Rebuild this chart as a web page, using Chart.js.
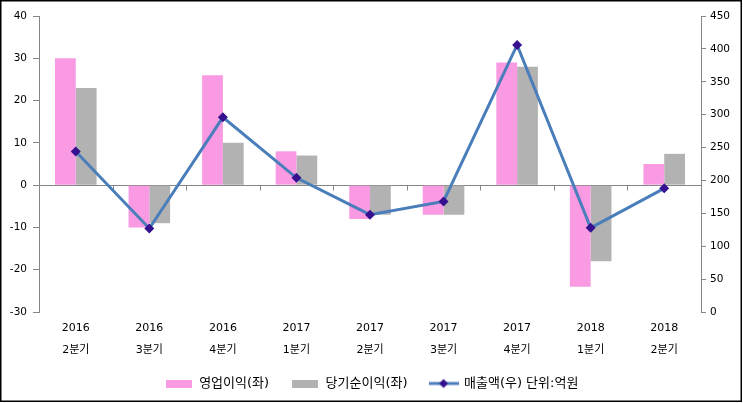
<!DOCTYPE html>
<html><head><meta charset="utf-8">
<script src="https://cdn.jsdelivr.net/npm/chart.js@4.4.1/dist/chart.umd.min.js"></script>
<style>html,body{margin:0;padding:0;background:#fff}#wrap{width:743px;height:403px}</style>
</head><body><div id="wrap"><canvas id="c" width="743" height="403"></canvas></div>
<script>
const years = ['2016','2016','2016','2017','2017','2017','2017','2018','2018'];
const quarters = ['2분기','3분기','4분기','1분기','2분기','3분기','4분기','1분기','2분기'];
const operatingProfit = [30, -10, 26, 8, -8, -7, 29, -24, 5];
const netProfit = [23, -9, 10, 7, -7, -7, 28, -18, 7.4];
const sales = [244, 127, 296, 204, 148, 168, 406, 128, 188];
const leftTicks = {min: -30, max: 40, step: 10};
const rightTicks = {min: 0, max: 450, step: 50};
const seriesNames = ['영업이익(좌)', '당기순이익(좌)', '매출액(우) 단위:억원'];

const PINK = '#f99ae3', GRAY = '#b2b2b2', BLUE = '#4a7ebb', MARK = '#35108f', AXIS = '#868686';
const FONT = '"DejaVu Sans", "Noto Sans CJK KR", sans-serif';

function boxCanvas(w, h, color) {
  const c = document.createElement('canvas'); c.width = w; c.height = h;
  const g = c.getContext('2d'); g.fillStyle = color; g.fillRect(0, 0, w, h); return c;
}
function lineCanvas() {
  const c = document.createElement('canvas'); c.width = 30; c.height = 12;
  const g = c.getContext('2d');
  g.strokeStyle = BLUE; g.lineWidth = 3; g.beginPath(); g.moveTo(0, 6); g.lineTo(30, 6); g.stroke();
  g.fillStyle = MARK; g.beginPath(); g.moveTo(15, 1.5); g.lineTo(19.5, 6); g.lineTo(15, 10.5); g.lineTo(10.5, 6); g.closePath(); g.fill();
  return c;
}
const legendImgs = [boxCanvas(26, 8, PINK), boxCanvas(26, 8, GRAY), lineCanvas()];

const decor = {
  id: 'decor',
  beforeDatasetsDraw(chart) {
    const {ctx, chartArea} = chart; const y = chart.scales.y; const x = chart.scales.x;
    const y0 = Math.round(y.getPixelForValue(0)) + 0.5;
    ctx.save(); ctx.strokeStyle = AXIS; ctx.lineWidth = 1;
    ctx.beginPath(); ctx.moveTo(chartArea.left, y0); ctx.lineTo(chartArea.right, y0);
    const n = chart.data.labels.length;
    for (let i = 1; i < n; i++) {
      const px = Math.round((x.getPixelForValue(i - 1) + x.getPixelForValue(i)) / 2) + 0.5;
      ctx.moveTo(px, y0); ctx.lineTo(px, y0 + 5);
    }
    ctx.stroke(); ctx.restore();
  },
  afterDraw(chart) {
    const ctx = chart.ctx; ctx.save(); ctx.strokeStyle = '#000'; ctx.lineWidth = 1.5;
    ctx.strokeRect(0.75, 0.75, 740.5, 400.5); ctx.restore();
  }
};

new Chart(document.getElementById('c'), {
  type: 'bar',
  data: {
    labels: years.map((y, i) => [y, quarters[i]]),
    datasets: [
      {label: seriesNames[0], data: operatingProfit, backgroundColor: PINK, yAxisID: 'y', categoryPercentage: 0.565, barPercentage: 1, order: 1},
      {label: seriesNames[1], data: netProfit, backgroundColor: GRAY, yAxisID: 'y', categoryPercentage: 0.565, barPercentage: 1, order: 1},
      {type: 'line', label: seriesNames[2], data: sales, yAxisID: 'y1', borderColor: BLUE, borderWidth: 3,
       pointStyle: 'rectRot', pointRadius: 5, pointBackgroundColor: MARK, pointBorderColor: MARK, pointBorderWidth: 0, tension: 0, order: 0}
    ]
  },
  options: {
    responsive: false, animation: false, devicePixelRatio: 1,
    layout: {padding: {top: 16, left: 0, right: 0, bottom: 3}},
    plugins: {
      tooltip: {enabled: false},
      legend: {
        position: 'bottom',
        labels: {
          usePointStyle: true, pointStyleWidth: 28, boxHeight: 12, padding: 22,
          color: '#000', font: {family: FONT, size: 13},
          generateLabels: (chart) => seriesNames.map((t, i) => ({
            text: t, pointStyle: legendImgs[i], datasetIndex: i, hidden: false, fontColor: '#000', lineWidth: 0, strokeStyle: 'transparent', fillStyle: 'transparent'
          }))
        }
      }
    },
    scales: {
      x: {
        grid: {display: false}, border: {display: false},
        ticks: {color: '#000', font: {family: FONT, size: 11, lineHeight: 2}, padding: -3, maxRotation: 0, autoSkip: false},
        afterFit: (s) => { s.height = 43; }
      },
      y: {
        position: 'left', min: leftTicks.min, max: leftTicks.max,
        grid: {drawOnChartArea: false, drawTicks: true, tickLength: 6, color: AXIS},
        border: {color: AXIS},
        ticks: {stepSize: leftTicks.step, color: '#000', font: {family: FONT, size: 10.5}, padding: 6},
        afterFit: (s) => { s.width = 39; }
      },
      y1: {
        position: 'right', min: rightTicks.min, max: rightTicks.max,
        grid: {drawOnChartArea: false, drawTicks: true, tickLength: 5, color: AXIS},
        border: {color: AXIS},
        ticks: {stepSize: rightTicks.step, color: '#000', font: {family: FONT, size: 10.5}, padding: 4},
        afterFit: (s) => { s.width = 42; }
      }
    }
  },
  plugins: [decor]
});
</script></body></html>
